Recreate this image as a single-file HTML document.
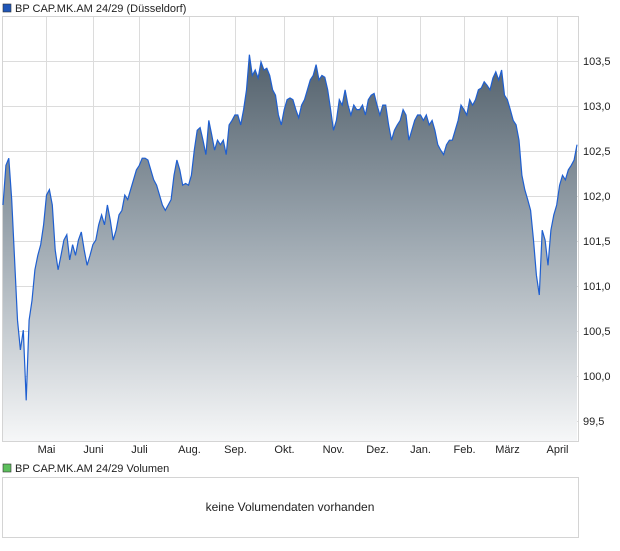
<!DOCTYPE html>
<html><head><meta charset="utf-8">
<style>
body{margin:0;background:#fff;font-family:"Liberation Sans",sans-serif;}
svg text{font-family:"Liberation Sans",sans-serif;font-size:11px;fill:#222;}
</style></head>
<body>
<svg width="620" height="546">
<defs>
<linearGradient id="g" x1="0" y1="0" x2="0" y2="1">
<stop offset="0" stop-color="#52606b"/>
<stop offset="0.45" stop-color="#99a4ad"/>
<stop offset="1" stop-color="#f6f7f8"/>
</linearGradient>
</defs>
<rect x="3" y="4" width="8" height="8" fill="#1f56b8" stroke="#333" stroke-width="0.6"/>
<text x="15" y="12">BP CAP.MK.AM 24/29 (Düsseldorf)</text>
<rect x="2.5" y="16.5" width="576" height="425" fill="#fff" stroke="#d4d4d4"/>
<g id="grid"></g>
<path id="area" fill="url(#g)"/>
<path id="line" fill="none" stroke="#1f5fd0" stroke-width="1.2"/>
<g id="yl"></g><g id="xl"></g>
<rect x="3" y="464" width="8" height="8" fill="#5cbf5c" stroke="#333" stroke-width="0.6"/>
<text x="15" y="472">BP CAP.MK.AM 24/29 Volumen</text>
<rect x="2.5" y="477.5" width="576" height="60" fill="#fff" stroke="#d4d4d4"/>
<text x="290" y="511" text-anchor="middle" style="font-size:12px">keine Volumendaten vorhanden</text>
</svg>
<script>
const prices=[101.90,102.34,102.42,101.96,101.29,100.62,100.29,100.51,99.73,100.62,100.84,101.18,101.34,101.46,101.68,102.01,102.07,101.90,101.40,101.18,101.34,101.51,101.57,101.29,101.46,101.34,101.51,101.60,101.40,101.23,101.34,101.46,101.51,101.68,101.79,101.68,101.90,101.73,101.51,101.62,101.79,101.84,102.01,101.96,102.07,102.18,102.29,102.34,102.42,102.42,102.40,102.29,102.18,102.12,102.01,101.90,101.84,101.90,101.96,102.23,102.40,102.29,102.12,102.14,102.12,102.23,102.51,102.73,102.76,102.62,102.46,102.84,102.68,102.51,102.62,102.57,102.62,102.46,102.79,102.84,102.90,102.90,102.79,102.96,103.18,103.57,103.34,103.40,103.31,103.49,103.40,103.42,103.34,103.18,103.12,102.90,102.79,102.96,103.07,103.09,103.07,102.96,102.87,103.01,103.07,103.18,103.29,103.34,103.46,103.29,103.34,103.32,103.18,102.96,102.73,102.84,103.07,103.01,103.18,103.01,102.90,103.01,102.96,102.96,103.01,102.90,103.07,103.12,103.14,103.01,102.90,103.01,103.01,102.79,102.62,102.73,102.79,102.84,102.96,102.90,102.62,102.73,102.84,102.90,102.90,102.84,102.90,102.79,102.84,102.73,102.57,102.51,102.46,102.57,102.62,102.62,102.73,102.84,103.01,102.96,102.90,103.07,103.01,103.07,103.18,103.20,103.27,103.23,103.18,103.31,103.38,103.29,103.40,103.12,103.07,102.96,102.84,102.79,102.62,102.23,102.07,101.96,101.84,101.51,101.12,100.90,101.62,101.51,101.23,101.62,101.79,101.90,102.12,102.23,102.18,102.29,102.34,102.40,102.57];
const yTicks=[99.5,100,100.5,101,101.5,102,102.5,103,103.5];
const yTickLabels=["99,5","100,0","100,5","101,0","101,5","102,0","102,5","103,0","103,5"];
const months=["Mai","Juni","Juli","Aug.","Sep.","Okt.","Nov.","Dez.","Jan.","Feb.","März","April"];
const monthIdx=[15,31,47,64,80,97,114,129,144,159,174,191];
const NS="http://www.w3.org/2000/svg";
const x0=3,x1=577,yBottom=441;
function X(i){return x0+(x1-x0)*i/(prices.length-1);}
function Y(v){return 61+(103.5-v)*90;}
const grid=document.getElementById('grid'),yl=document.getElementById('yl'),xl=document.getElementById('xl');
yTicks.forEach((t,k)=>{
 const l=document.createElementNS(NS,'line');
 l.setAttribute('x1',3);l.setAttribute('x2',578);l.setAttribute('y1',Math.round(Y(t))+0.5);l.setAttribute('y2',Math.round(Y(t))+0.5);
 l.setAttribute('stroke','#dcdcdc');
 
 
 grid.appendChild(l);
 const tx=document.createElementNS(NS,'text');
 tx.setAttribute('x',583);tx.setAttribute('y',Y(t)+4);tx.textContent=yTickLabels[k];
 
 
 yl.appendChild(tx);
});
months.forEach((m,k)=>{
 const x=Math.round(X(monthIdx[k]))+0.5;
 const l=document.createElementNS(NS,'line');
 l.setAttribute('x1',x);l.setAttribute('x2',x);l.setAttribute('y1',17);l.setAttribute('y2',441);
 l.setAttribute('stroke','#dcdcdc');
 
 
 grid.appendChild(l);
 const tx=document.createElementNS(NS,'text');
 tx.setAttribute('x',x);tx.setAttribute('y',453);tx.setAttribute('text-anchor','middle');tx.textContent=m;
 
 
 xl.appendChild(tx);
});
let d='';
prices.forEach((v,i)=>{d+=(i?'L':'M')+X(i).toFixed(1)+' '+Y(v).toFixed(1);});
document.getElementById('line').setAttribute('d',d);
document.getElementById('area').setAttribute('d',d+'L'+X(prices.length-1)+' '+yBottom+'L'+x0+' '+yBottom+'Z');
</script>
</body></html>
